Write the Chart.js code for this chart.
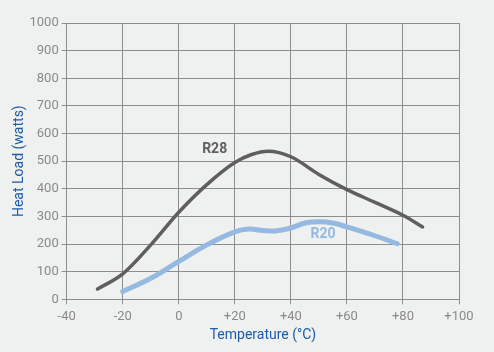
<!DOCTYPE html>
<html>
<head>
<meta charset="utf-8">
<script src="https://cdn.jsdelivr.net/npm/chart.js@4.4.1/dist/chart.umd.min.js"></script>
<style>
  html, body { margin: 0; padding: 0; background: #eff0f0; }
  #wrap { width: 494px; height: 352px; position: relative; }
</style>
</head>
<body>
<div id="wrap"><canvas id="grafico"></canvas></div>
<script>
// dados (temperatura em °C, carga em watts)
const tempR28 = [-29, -20, -10, 0, 10, 20, 26, 32, 40, 50, 60, 70, 80, 87];
const cargaR28 = [37, 92, 197, 315, 415, 495, 524, 536, 516, 452, 397, 351, 304, 262];
const tempR20 = [-20, -10, 0, 10, 20, 25, 30, 35, 40, 45, 50, 55, 60, 70, 78];
const cargaR20 = [28, 76, 137, 197, 244, 254, 249, 248, 258, 276, 281, 276, 262, 230, 201];
const ticksX = [-40, -20, 0, 20, 40, 60, 80, 100];
const rotulos = [
  { texto: 'R28', x: 12.8, y: 543, cor: '#5f5f5f' },
  { texto: 'R20', x: 51.5, y: 234, cor: '#95b9e0' }
];

const fonte = "Roboto, 'Liberation Sans', sans-serif";
const corGrade = '#8e8e8e', corTexto = '#8a8a8a', corTitulo = '#1d5ba6';

const pontos = (xs, ys) => xs.map((x, i) => ({ x, y: ys[i] }));

const pluginRotulos = {
  id: 'rotulos',
  afterDatasetsDraw(chart) {
    const ctx = chart.ctx;
    ctx.save();
    ctx.font = "bold 14px " + fonte;
    ctx.textAlign = 'center';
    ctx.textBaseline = 'middle';
    rotulos.forEach(r => {
      ctx.fillStyle = r.cor;
      ctx.fillText(r.texto, chart.scales.x.getPixelForValue(r.x), chart.scales.y.getPixelForValue(r.y));
    });
    ctx.restore();
  }
};

new Chart('grafico', {
  type: 'line',
  data: {
    datasets: [
      { label: 'R28', data: pontos(tempR28, cargaR28), borderColor: '#5f5f5f', borderWidth: 3.5,
        pointRadius: 0, cubicInterpolationMode: 'monotone', borderCapStyle: 'round' },
      { label: 'R20', data: pontos(tempR20, cargaR20), borderColor: '#95b9e0', borderWidth: 5,
        pointRadius: 0, tension: 0.4, borderCapStyle: 'round' }
    ]
  },
  options: {
    responsive: true,
    maintainAspectRatio: false,
    animation: false,
    layout: { padding: { top: 23, right: 35, left: 0, bottom: 0 } },
    plugins: { legend: { display: false }, tooltip: { enabled: false } },
    scales: {
      x: {
        type: 'linear', min: -40, max: 100,
        afterBuildTicks: (s) => { s.ticks = ticksX.map(v => ({ value: v })); },
        afterFit: (s) => { s.height = 52.7; },
        grid: { color: corGrade, lineWidth: 1, tickLength: 5 },
        border: { color: corGrade, width: 1 },
        ticks: { color: corTexto, font: { family: fonte, size: 13 }, padding: 5,
          callback: (v) => v > 0 ? '+' + v : String(v) },
        title: { display: true, text: 'Temperature (°C)', color: corTitulo,
          font: { family: fonte, size: 14 }, padding: { top: 4, bottom: 8 } }
      },
      y: {
        min: 0, max: 1000,
        afterFit: (s) => { s.width = 66.7; },
        grid: { color: corGrade, lineWidth: 1, tickLength: 5 },
        border: { color: corGrade, width: 1 },
        ticks: { stepSize: 100, color: corTexto, font: { family: fonte, size: 13 }, padding: 3,
          callback: (v) => String(v) },
        title: { display: true, text: 'Heat Load (watts)', color: corTitulo,
          font: { family: fonte, size: 14 }, padding: { top: 11, bottom: 0 } }
      }
    }
  },
  plugins: [pluginRotulos]
});
</script>
</body>
</html>
